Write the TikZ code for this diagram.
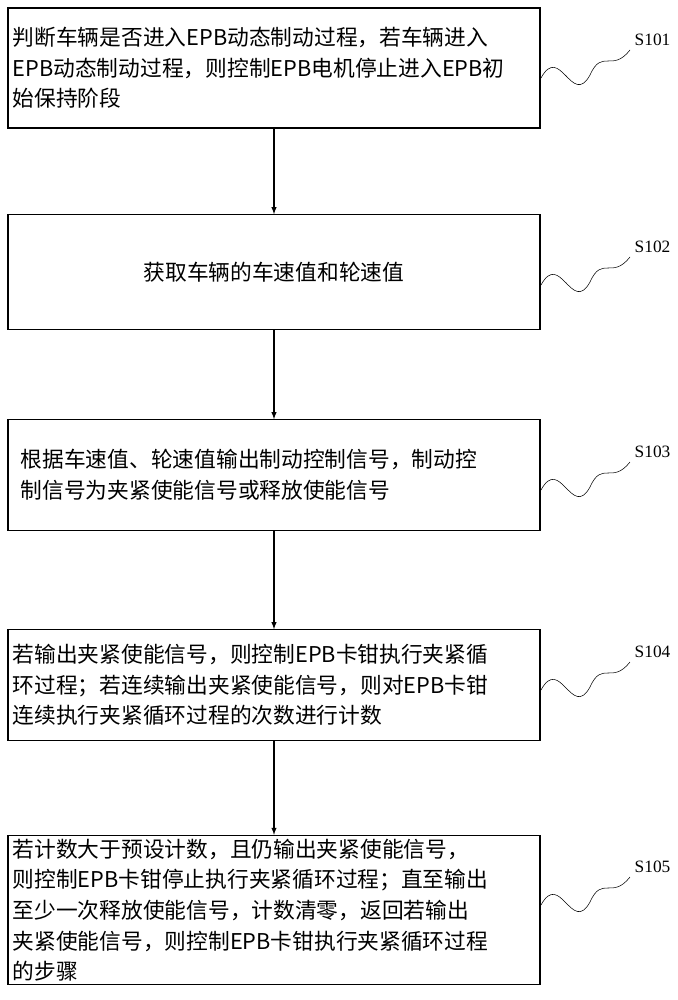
\documentclass[tikz,border=0pt]{standalone}
\usepackage{fontspec}
\setmainfont{Liberation Serif}
\newfontfamily\cjk{Noto Sans CJK SC}
\begin{document}
\begin{tikzpicture}
	[
	x=0.75pt, y=-0.75pt, font=\cjk\fontsize{16.3pt}{23pt}\selectfont, >=latex,
	stepbox/.style={draw, thick, minimum width=399pt, text width=392pt, align=left, inner sep=0pt},
	steplabel/.style={font=\fontsize{13pt}{15pt}\selectfont},
	wave/.style={thin}
	]
	\useasboundingbox (0,0) rectangle (678,1000);

	%Schritte
	\node[stepbox, minimum height=90pt] (s1) at (274,68) {判断车辆是否进入EPB动态制动过程，若车辆进入\\EPB动态制动过程，则控制EPB电机停止进入EPB初\\始保持阶段};
	\node[stepbox, minimum height=86pt, align=center] (s2) at (274,272) {获取车辆的车速值和轮速值};
	\node[stepbox, minimum height=83pt] (s3) at (274,475) {\hspace*{6pt}根据车速值、轮速值输出制动控制信号，制动控\\\hspace*{6pt}制信号为夹紧使能信号或释放使能信号};
	\node[stepbox, minimum height=83pt] (s4) at (274,685) {若输出夹紧使能信号，则控制EPB卡钳执行夹紧循\\环过程；若连续输出夹紧使能信号，则对EPB卡钳\\连续执行夹紧循环过程的次数进行计数};
	\node[stepbox, minimum height=112pt] (s5) at (274,910) {若计数大于预设计数，且仍输出夹紧使能信号，\\则控制EPB卡钳停止执行夹紧循环过程；直至输出\\至少一次释放使能信号，计数清零，返回若输出\\夹紧使能信号，则控制EPB卡钳执行夹紧循环过程\\的步骤};

	%Pfeile
	\foreach \a/\b in {s1/s2, s2/s3, s3/s4, s4/s5}
		\draw [->, thick] (\a) -- (\b);

	%Schrittnummern mit Wellenlinie
	\foreach \n/\y/\t in {s1/78/S101, s2/285/S102, s3/490/S103, s4/690/S104, s5/905/S105}{
		\draw [wave] (541,\y) .. controls (560,\y-35) and (572,\y+30) .. (590,\y-3)
			.. controls (602,\y-30) and (612,\y-5) .. (630,\y-28) coordinate (w\n);
		\node[steplabel, anchor=south west] (l\n) at (w\n) {\t};
	}
\end{tikzpicture}
\end{document}
